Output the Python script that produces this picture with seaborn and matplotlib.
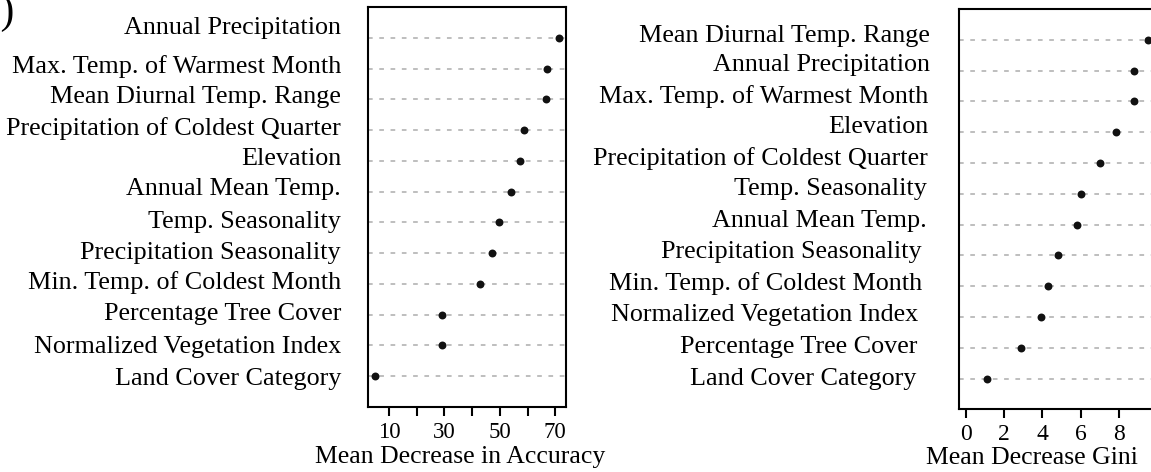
import matplotlib
matplotlib.use("Agg")
import matplotlib.pyplot as plt
import matplotlib.transforms as mtransforms
import seaborn as sns
import pandas as pd

# ---- data ----
acc_vars = ["Annual Precipitation", "Max. Temp. of Warmest Month", "Mean Diurnal Temp. Range",
            "Precipitation of Coldest Quarter", "Elevation", "Annual Mean Temp.",
            "Temp. Seasonality", "Precipitation Seasonality", "Min. Temp. of Coldest Month",
            "Percentage Tree Cover", "Normalized Vegetation Index", "Land Cover Category"]
acc_vals = [71.2, 67.0, 66.7, 58.7, 57.3, 54.0, 49.6, 47.1, 43.0, 29.3, 29.2, 5.1]

gini_vars = ["Mean Diurnal Temp. Range", "Annual Precipitation", "Max. Temp. of Warmest Month",
             "Elevation", "Precipitation of Coldest Quarter", "Temp. Seasonality",
             "Annual Mean Temp.", "Precipitation Seasonality", "Min. Temp. of Coldest Month",
             "Normalized Vegetation Index", "Percentage Tree Cover", "Land Cover Category"]
gini_vals = [9.53, 8.80, 8.78, 7.87, 7.02, 6.02, 5.81, 4.83, 4.31, 3.93, 2.86, 1.12]

acc_ticks = [10, 20, 30, 40, 50, 60, 70]
acc_tick_labels = ["10", "", "30", "", "50", "", "70"]
gini_ticks = [0, 2, 4, 6, 8]
gini_tick_labels = ["0", "2", "4", "6", "8"]

acc_xlabel = "Mean Decrease in Accuracy"
gini_xlabel = "Mean Decrease Gini"

# ---- label placement nudges (pixels; style only) ----
acc_lab_dy = [12.7, 4.3, 5, 4, 4.7, 4.7, 3.3, 2.8, 3.5, 3, 1.3, 0]
acc_lab_dx = [0] * 12
gini_lab_dy = [6, 8, 7, 8, 7, 7, 6, 6, 5, 4.5, 3, 2]
gini_lab_dx = [3, 3, 1, 1, 1, 0, 0, -5, -5, -9, -10, -11]

# ---- style ----
sns.set_style("white")
plt.rcParams["font.family"] = ["Liberation Serif", "DejaVu Serif"]
plt.rcParams["text.color"] = "black"
plt.rcParams["axes.labelcolor"] = "black"
plt.rcParams["xtick.color"] = "black"

W, H = 1151, 472
fig = plt.figure(figsize=(W / 100, H / 100), dpi=100)

ax1 = fig.add_axes([368 / W, 1 - 407 / H, 198 / W, 400 / H])
ax2 = fig.add_axes([958.7 / W, 1 - 409.3 / H, 196.6 / W, 400.3 / H])


def r_range(lo, hi):
    r = hi - lo
    return lo - 0.04 * r, hi + 0.04 * r


def panel(ax, names, vals, ticks, tlabels, xlabel, xlim, gap_px, dxs, dys,
          xlab_pos, xlab_y, xlab_size, tick_size):
    df = pd.DataFrame({"var": names, "val": vals})
    sns.stripplot(data=df, x="val", y="var", order=names, orient="h", jitter=False,
                  color="#111111", size=5.7, linewidth=0, ax=ax, zorder=3)
    ax.set_ylim(len(names), -1)
    ax.set_xlim(*xlim)
    ax.grid(axis="y", color="#bebebe", linestyle=(0, (2.4, 3.4)), linewidth=1.4)
    ax.grid(axis="x", visible=False)
    ax.set_axisbelow(True)
    for s in ax.spines.values():
        s.set_visible(True)
        s.set_color("black")
        s.set_linewidth(1.5)
    ax.set_xticks(ticks)
    ax.set_xticklabels(tlabels, fontsize=tick_size)
    ax.tick_params(axis="x", direction="out", length=6.5, width=1.5, pad=4, bottom=True)
    ax.tick_params(axis="y", length=0, labelleft=False)
    ax.set_ylabel("")
    # category labels drawn as text beside the rows
    base = mtransforms.blended_transform_factory(ax.transAxes, ax.transData)
    for k, name in enumerate(names):
        off = mtransforms.ScaledTranslation((-gap_px + dxs[k]) / 100, dys[k] / 100,
                                            fig.dpi_scale_trans)
        ax.text(0, k, name, transform=base + off, ha="right", va="center_baseline",
                fontsize=18.8, color="black")
    ax.set_xlabel(xlabel, fontsize=xlab_size)
    ax.xaxis.set_label_coords(xlab_pos, xlab_y)


panel(ax1, acc_vars, acc_vals, acc_ticks, acc_tick_labels, acc_xlabel,
      r_range(min(acc_vals), max(acc_vals)), 27, acc_lab_dx, acc_lab_dy,
      0.465, -0.098, 18.5, 16.5)
panel(ax2, gini_vars, gini_vals, gini_ticks, gini_tick_labels, gini_xlabel,
      r_range(0, max(gini_vals)), 31.7, gini_lab_dx, gini_lab_dy,
      0.373, -0.093, 18.5, 17)

fig.text(14 / W, 1 - 23 / H, "(a)", ha="right", va="baseline", fontsize=30)

fig.savefig("out.png", dpi=100)
